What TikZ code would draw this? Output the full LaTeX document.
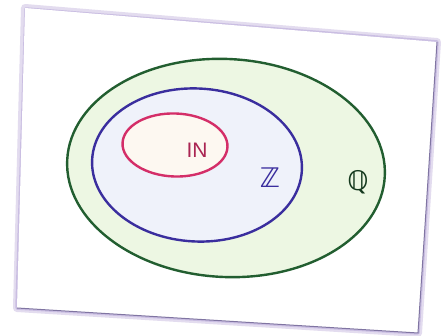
\documentclass[tikz,border=0pt]{standalone}
\usepackage{fontspec}
\setmainfont{Liberation Sans}
\newfontfamily\symfont{DejaVu Sans}
\usetikzlibrary{shapes.geometric}
\definecolor{qgreen}{HTML}{225E30}
\definecolor{qfill}{HTML}{EDF7E3}
\definecolor{zblue}{HTML}{3A2E9E}
\definecolor{zfill}{HTML}{EFF2FA}
\definecolor{nred}{HTML}{D42E68}
\definecolor{nfill}{HTML}{FDF8F1}
\definecolor{shadow}{HTML}{B8A8D8}
\definecolor{cardedge}{HTML}{4A3A7A}
\tikzset{
  setq/.style={ellipse, draw=qgreen, fill=qfill, line width=2.4pt, inner sep=0pt},
  setz/.style={ellipse, draw=zblue, fill=zfill, line width=2.4pt, inner sep=0pt},
  setn/.style={ellipse, draw=nred, fill=nfill, line width=2.4pt, inner sep=0pt},
  lab/.style={font=\fontsize{21}{21}\selectfont},
  biglab/.style={font=\fontsize{27}{27}\selectfont\symfont}
}
\begin{document}
\begin{tikzpicture}[x=1pt,y=-1pt]
\useasboundingbox (0,0) rectangle (442,336);
\fill[white] (0,0) rectangle (442,336);
% shadow
\draw[shadow!40, line width=8pt, line join=round] (25,8) -- (437,42) -- (418,333) -- (17,308) -- cycle;
\draw[shadow!75, line width=3.5pt, line join=round] (26,9) -- (437,42) -- (418,333) -- (17,308) -- cycle;
\fill[white] (25,8) -- (437,42) -- (418,333) -- (17,308) -- cycle;
\draw[cardedge!70, line width=1pt] (437,42) -- (418,333) -- (17,308);
% sets
\node[setq, minimum width=318pt, minimum height=218pt, rotate=-3] (Q) at (226,168) {};
\node[setz, minimum width=210pt, minimum height=153pt, rotate=-3] (Z) at (197,165) {};
\node[setn, minimum width=105pt, minimum height=63pt, rotate=-2] (N) at (175,145) {};
\node[lab, text=nred!80!black] (nl) at (197,150) {IN};
\node[biglab, text=zblue] (zl) at (270,178) {ℤ};
\node[biglab, text=qgreen!60!black] (ql) at (358,182) {ℚ};
\end{tikzpicture}
\end{document}
